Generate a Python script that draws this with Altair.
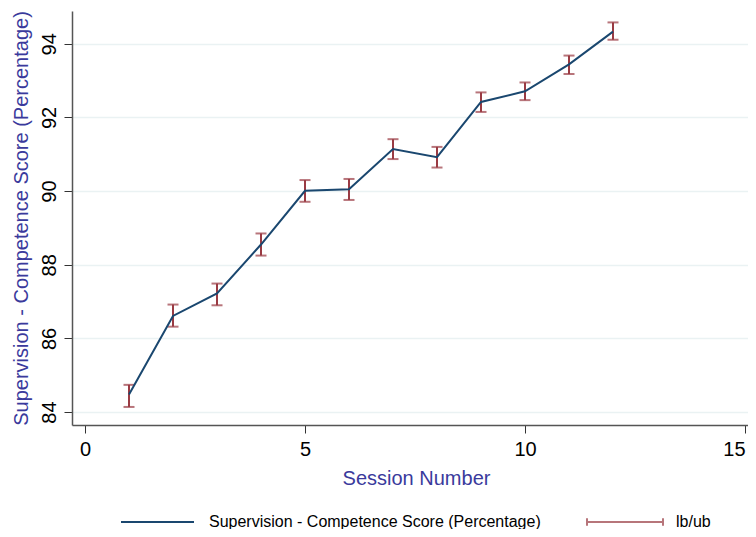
import altair as alt
import pandas as pd

# Data
sessions = [1, 2, 3, 4, 5, 6, 7, 8, 9, 10, 11, 12]
score = [84.48, 86.61, 87.22, 88.55, 90.01, 90.05, 91.14, 90.92, 92.42, 92.71, 93.44, 94.33]
lower = [84.14, 86.32, 86.90, 88.25, 89.71, 89.76, 90.87, 90.64, 92.15, 92.47, 93.18, 94.11]
upper = [84.74, 86.92, 87.49, 88.85, 90.30, 90.33, 91.41, 91.20, 92.68, 92.95, 93.68, 94.58]

series_name = "Supervision - Competence Score (Percentage)"
bar_name = "lb/ub"
x_ticks = [0, 5, 10, 15]
y_ticks = [84, 86, 88, 90, 92, 94]

df = pd.DataFrame({
    "session": sessions,
    "score": score,
    "lb": lower,
    "ub": upper,
    "series": [series_name] * len(sessions),
    "eb": [bar_name] * len(sessions),
})

NAVY = "#1a476f"
MAROON = "#9a3b43"
TITLE_C = "#3a3a9c"
FONT = "Liberation Sans"

x_scale = alt.Scale(domain=[-0.2955, 15.068], nice=False, zero=False)
y_scale = alt.Scale(domain=[83.65, 94.89], nice=False, zero=False)

x_enc = alt.X("session:Q", scale=x_scale,
              axis=alt.Axis(values=x_ticks, title="Session Number", grid=False,
                            tickSize=8, labelPadding=6, titlePadding=9,
                            titleX=344, labelFlush=5,
                            labelFontSize=20, titleFontSize=20,
                            titleColor=TITLE_C, titleFontWeight="normal",
                            labelColor="#000000", tickColor="#333333",
                            domainColor="#555555", domainWidth=1.5,
                            labelFont=FONT, titleFont=FONT, format="d"))

y_axis = alt.Axis(values=y_ticks, title=series_name, grid=True,
                  gridColor="#eaf2f3", gridWidth=1.5,
                  tickSize=8, labelPadding=5, titlePadding=8,
                  labelAngle=270, labelFontSize=20, titleFontSize=20,
                  titleColor=TITLE_C, titleFontWeight="normal",
                  labelColor="#000000", tickColor="#333333",
                  domainColor="#555555", domainWidth=1.5,
                  labelFont=FONT, titleFont=FONT, format="d")

base = alt.Chart(df)

line = base.mark_line(strokeWidth=2).encode(
    x=x_enc,
    y=alt.Y("score:Q", scale=y_scale, axis=y_axis),
    color=alt.Color("series:N",
                    scale=alt.Scale(domain=[series_name], range=[NAVY]),
                    title=None,
                    legend=alt.Legend(orient="none", legendX=48, legendY=473.5,
                                      symbolType="stroke", symbolSize=5329,
                                      symbolStrokeWidth=2, labelFontSize=16,
                                      labelFont=FONT, labelColor="#000000",
                                      labelOffset=14, labelLimit=0, padding=0)),
)

eb_color = alt.Color("eb:N",
                     scale=alt.Scale(domain=[bar_name], range=[MAROON]),
                     title=None,
                     legend=alt.Legend(orient="none", legendX=514, legendY=472,
                                       symbolType="M-1,0H1M-1,-0.1V0.1M1,-0.1V0.1",
                                       symbolSize=5776, symbolStrokeWidth=2,
                                       labelFontSize=16, labelFont=FONT,
                                       labelColor="#000000", labelOffset=12,
                                       labelLimit=0, padding=0))

rules = base.mark_rule(strokeWidth=2).encode(
    x="session:Q",
    y=alt.Y("lb:Q", scale=y_scale),
    y2="ub:Q",
    color=eb_color,
)
caps_lo = base.mark_tick(orient="horizontal", size=11, thickness=2).encode(
    x="session:Q", y=alt.Y("lb:Q", scale=y_scale), color=eb_color)
caps_hi = base.mark_tick(orient="horizontal", size=11, thickness=2).encode(
    x="session:Q", y=alt.Y("ub:Q", scale=y_scale), color=eb_color)

errbars = alt.layer(rules, caps_lo, caps_hi)

chart = alt.layer(errbars, line).resolve_scale(color="independent").properties(
    width=676, height=414,
    autosize=alt.AutoSizeParams(type="none"),
    padding={"left": 64, "top": 3, "right": 0, "bottom": 104},
    background="white",
).configure_view(stroke=None)

chart.save("out.html", embed_options={"renderer": "svg", "actions": False})
